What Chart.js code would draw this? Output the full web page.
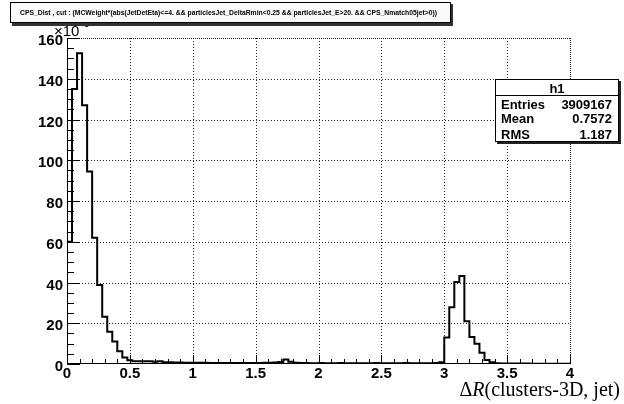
<!DOCTYPE html>
<html>
<head>
<meta charset="utf-8">
<script src="https://cdn.jsdelivr.net/npm/chart.js@4/dist/chart.umd.min.js"></script>
<style>
  html, body { margin: 0; padding: 0; background: #fff; }
  #c { display: block; }
</style>
</head>
<body>
<canvas id="c" width="624" height="404"></canvas>
<script>
// ROOT style histogram h1 : CPS_Dist, dR(clusters-3D, jet)

const histLow = 0;
const histHigh = 4;
const binWidth = 0.04;

// bin contents in units of 10^3 (100 bins, 0 .. 4)
const counts = [
    60, 135, 152.5, 127, 94.5, 62, 38.8, 23.2, 15.8, 11,
    6.2, 3.2, 1.8, 1.4, 1.3, 1.3, 1.4, 1.1, 1.3, 0.9,
    0.8, 0.7, 0.7, 0.6, 0.6, 0.6, 0.6, 0.6, 0.5, 0.5,
    0.5, 0.5, 0.5, 0.5, 0.5, 0.5, 0.5, 0.5, 0.5, 0.6,
    0.6, 0.7, 1.0, 2.2, 1.1, 0.6, 0.5, 0.5, 0.4, 0.4,
    0.5, 0.4, 0.4, 0.4, 0.5, 0.4, 0.4, 0.4, 0.4, 0.4,
    0.4, 0.5, 0.4, 0.4, 0.4, 0.4, 0.4, 0.5, 0.4, 0.4,
    0.4, 0.4, 0.4, 0.5, 0.8, 13, 27.8, 40.2, 43.2, 21,
    13.3, 10, 5.5, 2, 0.8, 0.4, 0.3, 0.2, 0.2, 0.2,
    0.2, 0.2, 0.1, 0.1, 0.1, 0.1, 0.1, 0.1, 0.1, 0.1
];

const xTicks = [0, 0.5, 1, 1.5, 2, 2.5, 3, 3.5, 4];
const yTicks = [0, 20, 40, 60, 80, 100, 120, 140, 160];
const xMinorStep = 0.1;
const yMinorStep = 5;

const titleText = 'CPS_Dist , cut : (MCWeight*(abs(JetDetEta)<=4. && particlesJet_DeltaRmin<0.25 && particlesJet_E>20. && CPS_Nmatch05jet>0))';
const statsName = 'h1';
const statsLabels = ['Entries', 'Mean', 'RMS'];
const statsValues = ['3909167', '0.7572', '1.187'];

const SANS = '"Liberation Sans", Arial, Helvetica, sans-serif';
const SERIF = '"Liberation Serif", "Times New Roman", serif';

var points = [{ x: histLow, y: 0 }];
counts.forEach(function (c, i) {
    points.push({ x: histLow + i * binWidth, y: c });
});
points.push({ x: histHigh, y: counts[counts.length - 1] });
points.push({ x: histHigh, y: 0 });

function dotted(ctx, x1, y1, x2, y2, dash) {
    ctx.save();
    ctx.setLineDash(dash);
    ctx.strokeStyle = '#222';
    ctx.lineWidth = 1;
    ctx.beginPath();
    ctx.moveTo(x1, y1);
    ctx.lineTo(x2, y2);
    ctx.stroke();
    ctx.restore();
}

var rootStyle = {
    id: 'rootStyle',
    beforeDatasetsDraw: function (chart) {
        var ctx = chart.ctx;
        var a = chart.chartArea;
        var sx = chart.scales.x, sy = chart.scales.y;
        xTicks.forEach(function (v) {
            if (v === histLow) return;
            var px = Math.round(sx.getPixelForValue(v)) + 0.5;
            dotted(ctx, px, a.top, px, a.bottom, v === histHigh ? [1, 1] : [1, 2]);
        });
        yTicks.forEach(function (v) {
            if (v === 0) return;
            var py = Math.round(sy.getPixelForValue(v)) + 0.5;
            dotted(ctx, a.left, py, a.right, py, v === 160 ? [1, 1] : [1, 2]);
        });
    },
    afterDatasetsDraw: function (chart) {
        var ctx = chart.ctx;
        var a = chart.chartArea;
        var sx = chart.scales.x, sy = chart.scales.y;
        ctx.save();

        // axes lines
        ctx.strokeStyle = '#000';
        ctx.lineWidth = 1;
        ctx.beginPath();
        ctx.moveTo(Math.round(a.left) + 0.5, a.top);
        ctx.lineTo(Math.round(a.left) + 0.5, a.bottom);
        ctx.moveTo(a.left, Math.round(a.bottom) - 0.5);
        ctx.lineTo(a.right, Math.round(a.bottom) - 0.5);

        // x ticks (inside)
        for (var xv = histLow; xv <= histHigh + 1e-9; xv += xMinorStep) {
            var major = Math.abs(xv * 2 - Math.round(xv * 2)) < 1e-6;
            var px = Math.round(sx.getPixelForValue(xv)) + 0.5;
            ctx.moveTo(px, a.bottom);
            ctx.lineTo(px, a.bottom - (major ? 9 : 5));
        }
        // y ticks (inside)
        for (var yv = 0; yv <= 160; yv += yMinorStep) {
            var ymajor = yv % 20 === 0;
            var py = Math.round(sy.getPixelForValue(yv)) + 0.5;
            ctx.moveTo(a.left, py);
            ctx.lineTo(a.left + (ymajor ? 13 : 7), py);
        }
        ctx.stroke();

        // axis title
        ctx.fillStyle = '#000';
        ctx.textBaseline = 'alphabetic';
        ctx.font = '20px ' + SERIF;
        var partA = '\u0394';
        var partC = '(clusters-3D, jet)';
        var wA = ctx.measureText(partA).width;
        var wC = ctx.measureText(partC).width;
        ctx.font = 'italic 20px ' + SERIF;
        var wB = ctx.measureText('R').width;
        var xr = 620;
        var x0 = xr - wA - wB - wC;
        var by = 396;
        ctx.font = '20px ' + SERIF;
        ctx.textAlign = 'left';
        ctx.fillText(partA, x0, by);
        ctx.font = 'italic 20px ' + SERIF;
        ctx.fillText('R', x0 + wA, by);
        ctx.font = '20px ' + SERIF;
        ctx.fillText(partC, x0 + wA + wB, by);

        // y axis exponent x10^3
        ctx.font = '15px ' + SANS;
        ctx.fillText('\u00d710', 54, 36);
        ctx.font = '10px ' + SANS;
        ctx.fillText('3', 84, 27);

        // title box
        ctx.fillStyle = '#333';
        ctx.fillRect(12, 4, 441, 22);
        ctx.fillStyle = '#fafafa';
        ctx.fillRect(10, 2, 441, 21);
        ctx.strokeStyle = '#000';
        ctx.strokeRect(10.5, 2.5, 440, 20);
        ctx.fillStyle = '#000';
        ctx.font = 'bold 7px ' + SANS;
        ctx.textAlign = 'left';
        ctx.textBaseline = 'middle';
        ctx.fillText(titleText, 20, 13, 417);

        // stats box
        var bx = 495, bw = 124, btop = 79, bh = 63;
        ctx.fillStyle = '#222';
        ctx.fillRect(bx + 2, btop + 2, bw, bh);
        ctx.fillStyle = '#fff';
        ctx.fillRect(bx, btop, bw, bh);
        ctx.strokeStyle = '#000';
        ctx.strokeRect(bx + 0.5, btop + 0.5, bw - 1, bh - 1);
        ctx.beginPath();
        ctx.moveTo(bx, btop + 16.5);
        ctx.lineTo(bx + bw, btop + 16.5);
        ctx.stroke();
        ctx.fillStyle = '#000';
        ctx.font = 'bold 13px ' + SANS;
        ctx.textBaseline = 'alphabetic';
        ctx.textAlign = 'center';
        ctx.fillText(statsName, bx + 62, btop + 14);
        var rowBase = [109, 123, 139];
        statsLabels.forEach(function (lab, i) {
            ctx.textAlign = 'left';
            ctx.fillText(lab, bx + 6, rowBase[i]);
            ctx.textAlign = 'right';
            ctx.fillText(statsValues[i], bx + bw - 7, rowBase[i]);
        });

        ctx.restore();
    }
};

new Chart(document.getElementById('c'), {
    type: 'line',
    data: {
        datasets: [{
            label: statsName,
            data: points,
            stepped: true,
            borderColor: '#000',
            borderWidth: 2,
            pointRadius: 0,
            fill: false,
            tension: 0
        }]
    },
    options: {
        responsive: false,
        animation: false,
        devicePixelRatio: 1,
        layout: { padding: { top: 38, right: 54, left: 0, bottom: 0 } },
        plugins: { legend: { display: false }, tooltip: { enabled: false } },
        scales: {
            x: {
                type: 'linear',
                min: histLow,
                max: histHigh,
                grid: { display: false, drawTicks: false },
                border: { display: false },
                afterBuildTicks: function (s) { s.ticks = xTicks.map(function (v) { return { value: v }; }); },
                afterFit: function (s) { s.height = 40; },
                ticks: {
                    color: '#000',
                    font: { family: SANS, size: 15, weight: 'bold' },
                    padding: 1,
                    maxRotation: 0,
                    autoSkip: false,
                    callback: function (v) { return String(v); }
                }
            },
            y: {
                type: 'linear',
                min: 0,
                max: 160,
                grid: { display: false, drawTicks: false },
                border: { display: false },
                afterBuildTicks: function (s) { s.ticks = yTicks.map(function (v) { return { value: v }; }); },
                afterFit: function (s) { s.width = 67; },
                ticks: {
                    color: '#000',
                    font: { family: SANS, size: 15, weight: 'bold' },
                    padding: 4,
                    labelOffset: 3,
                    autoSkip: false,
                    callback: function (v) { return String(v); }
                }
            }
        }
    },
    plugins: [rootStyle]
});
</script>
</body>
</html>
